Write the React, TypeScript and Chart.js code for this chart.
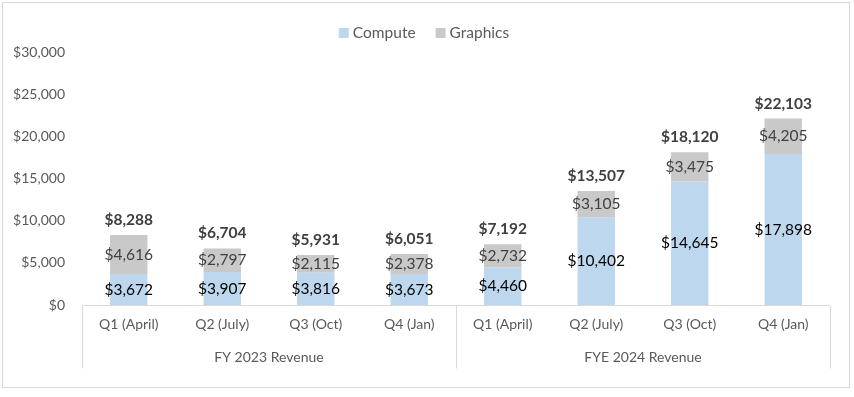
import React, { useEffect, useRef } from "react";
import { Chart, registerables } from "chart.js";

Chart.register(...registerables);

const quarters = ["Q1 (April)", "Q2 (July)", "Q3 (Oct)", "Q4 (Jan)", "Q1 (April)", "Q2 (July)", "Q3 (Oct)", "Q4 (Jan)"];
const groups = ["FY 2023 Revenue", "FYE 2024 Revenue"];
const groupSizes = [4, 4];
const compute = [3672, 3907, 3816, 3673, 4460, 10402, 14645, 17898];
const graphics = [4616, 2797, 2115, 2378, 2732, 3105, 3475, 4205];
const totals = [8288, 6704, 5931, 6051, 7192, 13507, 18120, 22103];
const seriesNames = ["Compute", "Graphics"];
const seriesColors = ["#BDD7EE", "#C9C9C9"];

const FONT = "Lato, 'Open Sans', sans-serif";
const fmt = (v: number) => "$" + v.toLocaleString("en-US");

const overlay = {
  id: "overlay",
  afterDraw(chart: any) {
    const ctx = chart.ctx as CanvasRenderingContext2D;
    const area = chart.chartArea;
    const xs = chart.scales.x;
    const ys = chart.scales.y;
    ctx.save();
    // outer border
    ctx.strokeStyle = "#D9D9D9";
    ctx.lineWidth = 1;
    ctx.strokeRect(2.5, 2.5, chart.width - 7, chart.height - 12);

    // axis line & group separators
    const yb = Math.round(area.bottom) + 0.5;
    ctx.beginPath();
    ctx.moveTo(area.left, yb);
    ctx.lineTo(area.right, yb);
    const step = (area.right - area.left) / quarters.length;
    let idx = 0;
    const seps = [area.left];
    groupSizes.forEach((n) => {
      idx += n;
      seps.push(area.left + step * idx);
    });
    seps.forEach((sx) => {
      const px = Math.round(sx) + 0.5;
      ctx.moveTo(px, yb);
      ctx.lineTo(px, yb + 63);
    });
    ctx.stroke();

    // quarter labels
    ctx.fillStyle = "#595959";
    ctx.font = `14px ${FONT}`;
    ctx.textAlign = "center";
    ctx.textBaseline = "middle";
    quarters.forEach((q, i) => {
      ctx.fillText(q, xs.getPixelForValue(i), area.bottom + 19);
    });
    // group labels
    groupSizes.forEach((n, g) => {
      const cx = (seps[g] + seps[g + 1]) / 2;
      ctx.fillText(groups[g], cx, area.bottom + 52);
    });

    // data labels
    const meta0 = chart.getDatasetMeta(0);
    const meta1 = chart.getDatasetMeta(1);
    for (let i = 0; i < quarters.length; i++) {
      const x = xs.getPixelForValue(i);
      const b0 = meta0.data[i];
      const b1 = meta1.data[i];
      ctx.font = `15.5px ${FONT}`;
      ctx.fillStyle = "#000000";
      ctx.fillText(fmt(compute[i]), x, (b0.y + b0.base) / 2);
      ctx.fillStyle = "#404040";
      ctx.fillText(fmt(graphics[i]), x, (b1.y + b1.base) / 2);
      ctx.font = `bold 15.5px ${FONT}`;
      ctx.fillStyle = "#404040";
      ctx.fillText(fmt(totals[i]), x, ys.getPixelForValue(totals[i]) - 15);
    }

    // legend
    ctx.font = `15.5px ${FONT}`;
    ctx.textAlign = "left";
    const legendItems = seriesNames.map((n, i) => ({ n, c: seriesColors[i], w: ctx.measureText(n).width }));
    const box = 10;
    const gap = 4;
    const spacing = 20;
    const totalW = legendItems.reduce((s, it) => s + box + gap + it.w, 0) + spacing * (legendItems.length - 1);
    let lx = 424 - totalW / 2;
    const ly = 33;
    legendItems.forEach((it) => {
      ctx.fillStyle = it.c;
      ctx.fillRect(lx, ly - box / 2, box, box);
      lx += box + gap;
      ctx.fillStyle = "#595959";
      ctx.fillText(it.n, lx, ly);
      lx += it.w + spacing;
    });
    ctx.restore();
  },
};

export default function App() {
  const ref = useRef<HTMLCanvasElement>(null);
  useEffect(() => {
    if (!ref.current) return;
    const chart = new Chart(ref.current, {
      type: "bar",
      data: {
        labels: quarters,
        datasets: [
          { label: seriesNames[0], data: compute, backgroundColor: seriesColors[0] },
          { label: seriesNames[1], data: graphics, backgroundColor: seriesColors[1] },
        ],
      },
      options: {
        animation: false,
        responsive: false,
        devicePixelRatio: 1,
        layout: { padding: { top: 52, right: 24, bottom: 92, left: 0 } },
        plugins: { legend: { display: false }, tooltip: { enabled: false } },
        datasets: { bar: { categoryPercentage: 1, barPercentage: 0.4 } },
        scales: {
          x: { stacked: true, display: false, offset: true },
          y: {
            stacked: true,
            min: 0,
            max: 30000,
            grid: { display: false, drawTicks: false },
            border: { display: false },
            afterFit: (s: any) => {
              s.width = 82;
            },
            ticks: {
              stepSize: 5000,
              padding: 17,
              color: "#595959",
              font: { family: FONT, size: 14 },
              callback: (v: any) => fmt(Number(v)),
            },
          },
        },
      },
      plugins: [overlay],
    });
    return () => chart.destroy();
  }, []);
  return (
    <div style={{ position: "absolute", left: 0, top: 0, width: 854, height: 397, background: "#fff" }}>
      <canvas ref={ref} width={854} height={397} />
    </div>
  );
}
